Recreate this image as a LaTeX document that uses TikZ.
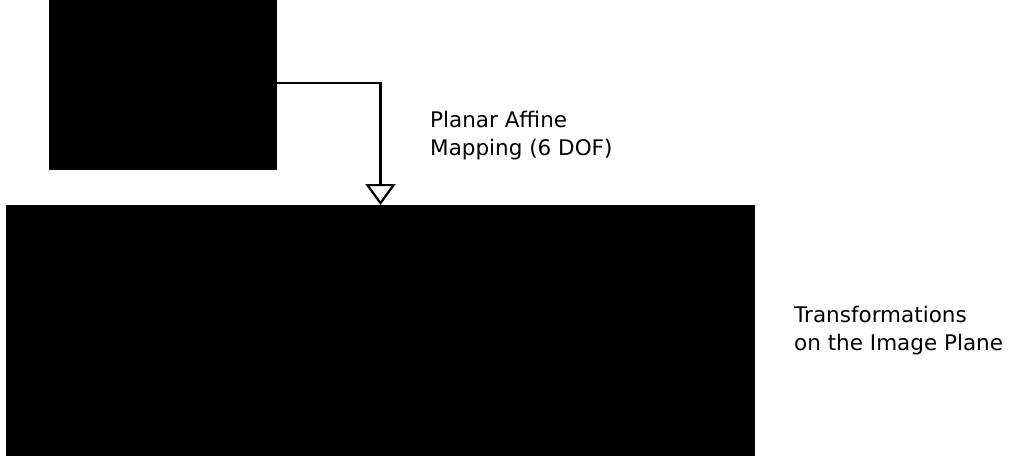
\documentclass[tikz,border=0pt]{standalone}
\usepackage{fontspec}
\setmainfont{DejaVu Sans}
\usetikzlibrary{arrows.meta}
\tikzset{
  blackbox/.style={draw=none, fill=black, inner sep=0pt, outer sep=0pt},
  lbl/.style={inner sep=0pt, align=left, anchor=base west,
    font=\fontsize{21.5}{28.5}\selectfont},
  conn/.style={line width=2.2pt, -{Triangle[open, length=21pt, width=30pt, line width=2.2pt]}}
}
\begin{document}
\begin{tikzpicture}[x=1pt,y=-1pt]
\useasboundingbox (0,0) rectangle (1011,461);
\node[blackbox, minimum width=228pt, minimum height=170pt] (small) at (163,85) {};
\node[blackbox, minimum width=749pt, minimum height=251pt] (big) at (380.5,330.5) {};
\draw[conn] ([yshift=2pt]small.east) -| (big.north);
\node[lbl] (map) at (430,155.5) {Planar Affine\\Mapping (6 DOF)};
\node[lbl] (trans) at (794,350.5) {Transformations\\on the Image Plane};
\end{tikzpicture}
\end{document}
